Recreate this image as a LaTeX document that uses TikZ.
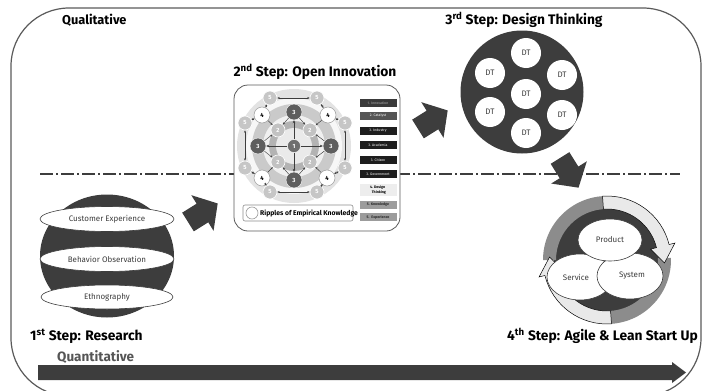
\documentclass[tikz,border=0pt]{standalone}
\usepackage{fontspec}
\setmainfont{Fira Sans}
\usetikzlibrary{arrows.meta,shapes.geometric}
\newcommand\myfs[1]{\fontsize{#1}{#1}\selectfont}
\definecolor{ink}{HTML}{3D3D3D}
\definecolor{rim}{HTML}{5A5A5A}
\definecolor{midg}{HTML}{8C8C8C}
\definecolor{lightg}{HTML}{E9E9E9}
\definecolor{qtext}{HTML}{555555}
% ripple diagram colours
\definecolor{ringA}{HTML}{E3E3E3}
\definecolor{ringB}{HTML}{F7F7F7}
\definecolor{ringC}{HTML}{CACACA}
\definecolor{ringD}{HTML}{F0F0F0}
\definecolor{ringE}{HTML}{B3B3B3}
\definecolor{ringF}{HTML}{EAEAEA}
\definecolor{one}{HTML}{6E6E6E}
\definecolor{two}{HTML}{C2C2C2}
\definecolor{three}{HTML}{5E5E5E}
\definecolor{fourrim}{HTML}{9A9A9A}
\definecolor{five}{HTML}{C6C6C6}
% legend colours
\definecolor{lgA}{HTML}{3A3A3A}
\definecolor{lgAt}{HTML}{B0B0B0}
\definecolor{lgB}{HTML}{555555}
\definecolor{lgC}{HTML}{1E1E1E}
\definecolor{lgD}{HTML}{EDEDED}
\definecolor{lgE}{HTML}{9C9C9C}
\definecolor{lgEt}{HTML}{2A2A2A}

\tikzset{
  fatarrow/.pic={\fill[ink] (0,-11) -- (17,-11) -- (17,-21) -- (35,0) -- (17,21) -- (17,11) -- (0,11) -- cycle;}
}

\begin{document}
\begin{tikzpicture}[x=1pt,y=-1pt,
  title/.style={font=\bfseries\myfs{13.8}, text=black, inner sep=0pt},
  oval/.style={ellipse, draw=ink, line width=0.6pt, fill=white, font=\myfs{8}, text=ink, inner sep=0pt},
  dtnode/.style={circle, fill=white, minimum size=30pt, inner sep=0pt, font=\myfs{8}, text=ink},
  lg/.style={rectangle, minimum width=37pt, minimum height=8.5pt, inner sep=0pt, font=\myfs{3.5}},
  nd/.style={circle, inner sep=0pt, font=\bfseries\myfs{6}},
  n1/.style={nd, fill=one, draw=white, line width=0.4pt, minimum size=13pt, text=white},
  n2/.style={nd, fill=two, draw=white, line width=0.6pt, minimum size=14pt, text=white},
  n3/.style={nd, fill=three, draw=white, line width=0.4pt, minimum size=16pt, text=white},
  n4/.style={nd, fill=white, draw=fourrim, line width=0.5pt, minimum size=16pt, text=black},
  n5/.style={nd, fill=five, draw=white, line width=0.6pt, minimum size=14pt, text=white},
  ra/.style={-{Stealth[length=2.4pt,width=2pt]}, line width=0.45pt, draw=ink},
  rb/.style={{Stealth[length=2.4pt,width=2pt]}-{Stealth[length=2.4pt,width=2pt]}, line width=0.45pt, draw=ink},
  rc/.style={-{Stealth[length=3pt,width=2.6pt]}, line width=0.8pt, draw=ink},
  band/.style={fill=lightg, draw=black, line width=0.5pt},
  mband/.style={fill=midg}
]
\useasboundingbox (0,0) rectangle (702,391);

% outer frame
\begin{scope}
  \clip (0,0) rectangle (702,391);
  \draw[rim, line width=1.2pt, rounded corners=58pt] (11,8) rectangle (701,396);
\end{scope}

% boundary between qualitative and quantitative
\coordinate (dl) at (40,174);
\coordinate (dr) at (680,174);
\draw[ink, line width=1.3pt, dash pattern=on 13pt off 3pt on 2pt off 3pt] (dl) -- (dr);

\node[title, anchor=west, font=\bfseries\myfs{12.8}] (qual) at (62,20) {Qualitative};

% ---- 1st step: research
\node[ellipse, fill=ink, minimum width=134pt, minimum height=123pt, inner sep=0pt] (res) at (107,256) {};
\node[oval, minimum width=134pt, minimum height=25pt] (ce) at (107,219) {Customer Experience};
\node[oval, minimum width=134pt, minimum height=25pt] (bo) at (107,259) {Behavior Observation};
\node[oval, minimum width=132pt, minimum height=24pt] (eth) at (107,297) {Ethnography};
\node[title, anchor=west] (t1) at (30,336) {1\textsuperscript{st} Step: Research};

% ---- 2nd step: open innovation
\node[title] (t2) at (315,72) {2\textsuperscript{nd} Step: Open Innovation};
\node[draw=rim, line width=0.8pt, fill=white, rounded corners=14pt, minimum width=166pt, minimum height=146pt, inner sep=0pt] (panel) at (317,158) {};

% ripples
\fill[ringA] (294,146) circle[radius=57];
\fill[ringB] (294,146) circle[radius=48];
\fill[ringC] (294,146) circle[radius=42];
\fill[ringD] (294,146) circle[radius=31];
\fill[ringE] (294,146) circle[radius=25];
\fill[ringF] (294,146) circle[radius=18];

\node[n5] (p5a) at (270,98) {5};
\node[n5] (p5b) at (317,98) {5};
\node[n5] (p5c) at (245,123) {5};
\node[n5] (p5d) at (345,123) {5};
\node[n5] (p5e) at (245,168) {5};
\node[n5] (p5f) at (345,168) {5};
\node[n5] (p5g) at (270,192) {5};
\node[n5] (p5h) at (317,192) {5};
\node[n4] (p4a) at (262,115) {4};
\node[n4] (p4b) at (328,115) {4};
\node[n4] (p4c) at (262,178) {4};
\node[n4] (p4d) at (327,178) {4};
\node[n3] (p3t) at (294,112) {3};
\node[n3] (p3l) at (258,146) {3};
\node[n3] (p3r) at (331,146) {3};
\node[n3] (p3b) at (294,180) {3};
\node[n2] (p2a) at (278,130) {2};
\node[n2] (p2b) at (310,130) {2};
\node[n2] (p2c) at (278,162) {2};
\node[n2] (p2d) at (310,162) {2};
\node[n1] (p1) at (294,146) {1};

\foreach \a/\b in {p5a/p5b, p5g/p5h, p5c/p5e, p5d/p5f,
                   p5a/p4a, p4a/p5c, p5b/p4b, p4b/p5d,
                   p5e/p4c, p4c/p5g, p5f/p4d, p4d/p5h}
  \draw[rb] (\a) -- (\b);
\foreach \b in {p3t, p3l, p3r, p3b}
  \draw[rc] (p1) -- (\b);
\foreach \a/\b in {p4a/p2a, p4b/p2b, p4c/p2c, p4d/p2d,
                   p3t/p2a, p3t/p2b, p3l/p2a, p3l/p2c,
                   p3r/p2b, p3r/p2d, p3b/p2c, p3b/p2d}
  \draw[ra] (\a) -- (\b);

% legend
\node[lg, fill=lgA, text=lgAt] (lg1) at (378,103) {1. Innovation};
\node[lg, fill=lgB, text=white] (lg2) at (378,116) {2. Catalyst};
\node[lg, fill=lgC, text=white] (lg3) at (378,131) {3. Industry};
\node[lg, fill=lgC, text=white] (lg4) at (378,145) {3. Academia};
\node[lg, fill=lgC, text=white] (lg5) at (378,160) {3. Citizen};
\node[lg, fill=lgC, text=white] (lg6) at (378,174) {3. Government};
\node[lg, fill=lgD, text=black, minimum height=12pt, align=left, font=\bfseries\myfs{3.6}] (lg7) at (378,190) {4. Design\\\ \ Thinking};
\node[lg, fill=lgE, text=lgEt, font=\bfseries\myfs{3.6}] (lg8) at (378,205) {5. Knowledge};
\node[lg, fill=lgE, text=lgEt, font=\bfseries\myfs{3.6}] (lg9) at (378,217) {5. \ Experience};

% ripple key
\node[draw=midg, line width=0.6pt, fill=white, rounded corners=2pt, minimum width=110pt, minimum height=16pt, inner sep=0pt] (rip) at (298,213) {};
\node[circle, draw=fourrim, line width=0.6pt, fill=white, minimum size=12pt, inner sep=0pt] (ripc) at (252,213) {};
\node[anchor=west, inner sep=0pt, font=\bfseries\myfs{6.8}] (riptxt) at (260,213) {Ripples of Empirical Knowledge};

% ---- 3rd step: design thinking
\node[title] (t3) at (524,20) {3\textsuperscript{rd} Step: Design Thinking};
\node[circle, fill=ink, minimum size=123pt, inner sep=0pt] (dt) at (522,92) {};
\node[dtnode] (dt1) at (526,53) {DT};
\node[dtnode] (dt2) at (490,73) {DT};
\node[dtnode] (dt3) at (562,75) {DT};
\node[dtnode] (dt4) at (526,94) {DT};
\node[dtnode] (dt5) at (490,112) {DT};
\node[dtnode] (dt6) at (562,115) {DT};
\node[dtnode] (dt7) at (526,133) {DT};

% ---- 4th step: agile & lean start up
\node[circle, fill=ink, minimum size=106pt, inner sep=0pt] (cyc) at (607,260) {};
\begin{scope}[shift={(607,260)}, yscale=-1]
  \fill[mband] (180:64) arc[start angle=180, end angle=90, radius=64] -- (90:51) arc[start angle=90, end angle=180, radius=51] -- cycle;
  \fill[mband] (2:64) arc[start angle=2, end angle=-90, radius=64] -- (-90:51) arc[start angle=-90, end angle=2, radius=51] -- cycle;
  \draw[band] (94:64) arc[start angle=94, end angle=14, radius=64] -- (14:70) -- (-3:57.5) -- (14:45) -- (14:51) arc[start angle=14, end angle=94, radius=51] -- cycle;
  \draw[band] (-86:64) arc[start angle=-86, end angle=-166, radius=64] -- (-166:70) -- (-183:57.5) -- (-166:45) -- (-166:51) arc[start angle=-166, end angle=-86, radius=51] -- cycle;
\end{scope}
\node[oval, minimum width=66pt, minimum height=46pt] (svc) at (580,277) {Service\hspace*{8pt}};
\node[oval, minimum width=66pt, minimum height=46pt] (sys) at (630,276) {\hspace*{4pt}System};
\node[oval, minimum width=64pt, minimum height=42pt] (prd) at (610,240) {Product};
\node[title, anchor=east] (t4) at (698,336) {4\textsuperscript{th} Step: Agile \& Lean Start Up};

% ---- transitions between the steps
\pic[rotate=32] at (188,222) {fatarrow};
\pic[rotate=32] at (418,129) {fatarrow};
\pic[rotate=-58] at (560,158) {fatarrow};

% ---- quantitative axis
\node[anchor=west, inner sep=0pt, text=qtext, font=\bfseries\myfs{13.5}] (quant) at (57,357) {Quantitative};
\fill[ink] (38,365) -- (672,365) -- (672,362) -- (686,372.5) -- (672,383) -- (672,380) -- (38,380) -- cycle;
\end{tikzpicture}
\end{document}
